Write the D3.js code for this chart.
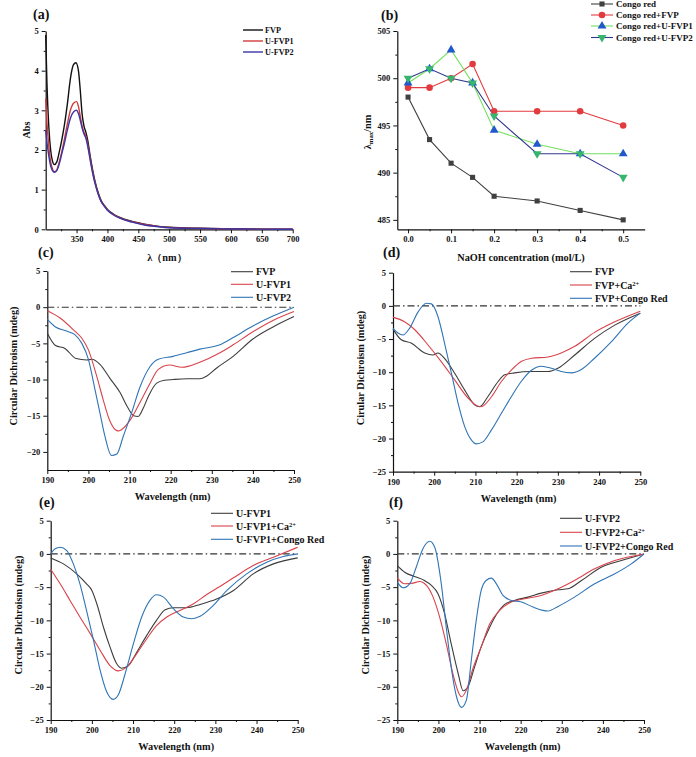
<!DOCTYPE html>
<html><head><meta charset="utf-8">
<script src="https://cdn.jsdelivr.net/npm/d3@7"></script>
<style>
body{margin:0;background:#fff}
text{font-family:"Liberation Serif","Times New Roman",serif;font-weight:bold;fill:#111}
</style>
</head><body>
<svg id="chart" width="696" height="757"></svg>
<script>
// ---------- Panel (a) UV spectra ----------
const uvFVP = [[300,4.9],[302,3.7],[305,2.6],[308,2.0],[311,1.72],[314,1.63],[318,1.7],[322,1.95],[326,2.25],[330,2.6],[335,3.15],[340,3.8],[345,4.15],[349,4.2],[353,4.0],[356,3.5],[359,2.9],[362,2.6],[365,2.45],[368,2.25],[372,1.85],[376,1.5],[380,1.2],[385,0.92],[390,0.72],[395,0.6],[400,0.5],[410,0.38],[420,0.3],[440,0.2],[460,0.13],[480,0.08],[500,0.05],[550,0.025],[600,0.012],[650,0.005],[700,0]];
const uvU1  = [[300,3.3],[302,2.7],[305,2.1],[308,1.7],[311,1.52],[314,1.45],[318,1.5],[322,1.7],[326,1.95],[330,2.25],[335,2.65],[340,3.0],[345,3.18],[350,3.22],[353,3.1],[356,2.85],[359,2.6],[362,2.45],[365,2.35],[368,2.15],[372,1.8],[376,1.45],[380,1.17],[385,0.9],[390,0.7],[395,0.59],[400,0.49],[410,0.37],[420,0.29],[440,0.19],[460,0.12],[480,0.075],[500,0.045],[550,0.022],[600,0.01],[650,0.004],[700,0]];
const uvU2  = [[300,2.5],[302,2.2],[305,1.85],[308,1.6],[311,1.48],[314,1.44],[318,1.48],[322,1.65],[326,1.9],[330,2.15],[335,2.5],[340,2.8],[345,2.96],[350,3.0],[353,2.92],[356,2.75],[359,2.55],[362,2.4],[365,2.3],[368,2.1],[372,1.75],[376,1.42],[380,1.15],[385,0.88],[390,0.69],[395,0.58],[400,0.48],[410,0.36],[420,0.28],[440,0.18],[460,0.11],[480,0.07],[500,0.04],[550,0.02],[600,0.009],[650,0.004],[700,0]];
const uvNames = ["FVP","U-FVP1","U-FVP2"];
const uvXTicks = [350,400,450,500,550,600,650,700];
const uvYTicks = [0,1,2,3,4,5];

// ---------- Panel (b) Congo red λmax ----------
const naoh = [0,0.05,0.1,0.15,0.2,0.3,0.4,0.5];
const lamCR   = [498,493.5,491,489.5,487.5,487,486,485];
const lamFVP  = [499,499,500,501.5,496.5,496.5,496.5,495];
const lamU1   = [499.5,501,503,499.5,494.5,493,492,492];
const lamU2   = [500,501,500,499.5,496,492,492,489.5];
const bNames = ["Congo red","Congo red+FVP","Congo red+U-FVP1","Congo red+U-FVP2"];
const bXTicks = [0,0.1,0.2,0.3,0.4,0.5];
const bYTicks = [485,490,495,500,505];

// ---------- Panel (c) CD ----------
const cFVP = [[190,-3.6],[192,-5.3],[194.3,-5.7],[197,-7.1],[199.6,-7.3],[200.8,-7.2],[202.8,-7.9],[205.2,-9.8],[207.7,-11.8],[209.5,-13.8],[211,-15.0],[212.1,-15.1],[213.3,-14.0],[214.6,-12.3],[216.6,-10.5],[218.5,-10.1],[220.6,-10.0],[224,-9.9],[227.1,-9.9],[228.8,-9.5],[231.2,-8.4],[235.2,-6.8],[240,-4.4],[245,-2.7],[250,-1.3]];
const cU1  = [[190,-0.5],[193.1,-1.5],[196.3,-3.1],[198.4,-4.3],[200,-5.9],[202,-9.5],[203.6,-12.8],[205.2,-15.7],[206.5,-16.9],[207.3,-17.1],[208.1,-16.9],[210.5,-15.3],[212.5,-13.2],[215,-10.5],[217,-8.6],[219.8,-8.0],[222.7,-8.3],[227.1,-7.6],[232,-6.3],[235.2,-5.2],[240,-3.4],[245,-1.8],[250,-0.6]];
const cU2  = [[190,-1.7],[191.9,-2.7],[194.7,-3.3],[196.7,-3.8],[198.4,-5.0],[200,-7.2],[201.6,-11.4],[202.8,-14.6],[204,-17.8],[205.6,-20.5],[206.9,-20.3],[208.5,-17.8],[210.5,-14.6],[212.5,-11.1],[215,-8.2],[217,-7.2],[220.6,-6.8],[223.9,-6.3],[227.1,-5.8],[232,-5.2],[235.2,-4.2],[240,-2.6],[245,-1.2],[250,0]];
const cNames = ["FVP","U-FVP1","U-FVP2"];

// ---------- Panel (d) CD ----------
const dFVP = [[190,-3.5],[192,-5.1],[194.4,-5.6],[197.7,-7.1],[199.7,-7.4],[200.9,-7.1],[202.5,-7.9],[205,-10.2],[207.4,-12.7],[209.8,-14.9],[211,-15.2],[213,-13.7],[215.5,-11.4],[217.1,-10.4],[219.5,-10.1],[223.6,-9.9],[227.6,-9.9],[230,-9.4],[234.1,-7.4],[238.9,-4.9],[243.8,-2.9],[250,-1.1]];
const dCa  = [[190,-1.7],[192.8,-2.4],[195.3,-3.6],[198.5,-5.9],[201.7,-8.4],[205,-11.2],[208.2,-13.9],[210.2,-15.0],[211.4,-15.2],[213.9,-13.7],[216.3,-11.4],[218.7,-9.7],[221.1,-8.4],[223.6,-7.9],[227.6,-7.7],[230.8,-7.1],[234.1,-6.1],[238.9,-4.0],[243.8,-2.4],[250,-0.8]];
const dCR  = [[190,-3.4],[191.2,-4.1],[192.4,-4.4],[194,-3.4],[196.1,-0.9],[198.1,0.4],[199.3,0.3],[200.9,-1.6],[202.5,-5.6],[204.2,-10.2],[205.8,-14.7],[207.4,-18.2],[209,-20.2],[210.2,-20.8],[211.8,-20.5],[213.9,-18.7],[216.3,-16.2],[218.7,-13.7],[221.1,-11.4],[223.6,-9.7],[226,-9.1],[228.4,-9.4],[230.8,-9.9],[233.3,-10.1],[235.7,-9.6],[238.9,-7.9],[243,-5.4],[247,-2.6],[250,-1.1]];
const dNames = ["FVP","FVP+Ca","FVP+Congo Red"];

// ---------- Panel (e) CD ----------
const eU1 = [[190,-0.6],[193.1,-1.5],[196.3,-3],[198.7,-4.5],[200,-5.5],[201.2,-7.5],[202.8,-11],[204.4,-14],[206,-16.5],[207.2,-17.2],[208.9,-16.8],[210.9,-14.8],[213.3,-12.3],[215.7,-10],[217.8,-8.4],[219.8,-8.1],[223,-8.1],[226.3,-7.6],[230.3,-6.8],[234.4,-5.5],[239.2,-3],[244.1,-1.5],[250,-0.6]];
const eCa = [[190,-2.3],[192.3,-4.5],[194.7,-7],[197.1,-9.5],[199.6,-12],[202,-14.5],[204.4,-16.8],[206.4,-17.6],[208.5,-17],[210.9,-15],[213.3,-12.8],[215.7,-10.8],[218.2,-9.5],[221.4,-8.5],[224.7,-7.5],[227.9,-6.1],[231.1,-4.9],[234.4,-3.6],[239.2,-1.75],[244.1,-0.5],[250,1.0]];
const eCR = [[190,0],[191,0.75],[192.3,1.0],[193.9,0.5],[195.5,-1.5],[197.1,-4.5],[198.7,-8.5],[200.4,-13],[202,-17.5],[203.6,-20.75],[205.2,-21.9],[206.4,-21.25],[208.1,-18],[210.1,-13.5],[212.1,-9.5],[214.1,-7],[215.7,-6.15],[217.4,-6.5],[219.8,-8.25],[222.2,-9.5],[224.3,-9.75],[226.3,-9.4],[229.5,-7.75],[232.8,-5.5],[237.6,-3],[242.5,-1.25],[246.5,-0.4],[250,0]];
const eNames = ["U-FVP1","U-FVP1+Ca","U-FVP1+Congo Red"];

// ---------- Panel (f) CD ----------
const fU2 = [[190,-1.75],[191.8,-2.75],[194.2,-3.4],[196.6,-4],[198.3,-4.75],[199.9,-6],[201.5,-9],[203.1,-13.5],[204.8,-18],[206,-20.6],[207.2,-20],[208.8,-17],[210.4,-14],[212.5,-11],[214.5,-8.75],[216.1,-7.6],[218.5,-7],[221.8,-6.5],[225,-5.9],[229.1,-5.4],[231.5,-5.25],[234.8,-4],[239.6,-2],[244.5,-1],[250,0]];
const fCa = [[190,-3.6],[191.8,-4.5],[193.8,-4.4],[195.4,-4.15],[197.1,-4.75],[198.7,-6.5],[200.3,-9.5],[201.9,-13.5],[203.5,-18],[204.8,-20.75],[205.6,-21.5],[206.8,-20.5],[208.4,-17.25],[210.4,-14],[212.5,-10.5],[214.9,-8.5],[217.7,-7.25],[221,-6.75],[225,-6.25],[229.1,-5.25],[233.1,-4],[238,-2.25],[242.9,-1],[250,0]];
const fCR = [[190,-4.25],[191.4,-5.1],[193,-4.5],[194.6,-2],[196.2,0.75],[197.9,1.9],[199.1,1.0],[200.7,-4.5],[201.9,-11],[203.1,-17],[204.4,-21.5],[205.6,-23.1],[206.8,-22],[208,-16],[209.2,-10],[210.4,-5.5],[211.6,-4],[212.9,-3.65],[214.1,-4.5],[215.7,-6.25],[217.7,-7],[220.2,-7.25],[223,-8],[225.4,-8.5],[226.6,-8.6],[229.1,-7.9],[233.1,-6.5],[238,-4.5],[242.9,-3],[246.9,-1.5],[250,0]];
const fNames = ["U-FVP2","U-FVP2+Ca","U-FVP2+Congo Red"];

const cdXTicks = [190,200,210,220,230,240,250];
const cdYTicksC = [-20,-15,-10,-5,0,5];
const cdYTicks = [-25,-20,-15,-10,-5,0,5];

const svg = d3.select("#chart");
const CD_COLORS = ["#3d3d3d","#d8434b","#2f74b5"];

function axes(g, x, y, xt, yt, xminor, yminor, xfmt, yfmt, fs) {
  const b = y.range()[0], l = x.range()[0];
  const ax = d3.axisBottom(x).tickValues(xt).tickSize(4).tickSizeOuter(0).tickPadding(3).tickFormat(xfmt);
  const gx = g.append("g").attr("transform",`translate(0,${b})`).call(ax);
  g.append("g").attr("transform",`translate(0,${b})`).call(d3.axisBottom(x).tickValues(xminor).tickSize(2).tickFormat("")).select(".domain").remove();
  const ay = d3.axisLeft(y).tickValues(yt).tickSize(4).tickSizeOuter(0).tickPadding(3).tickFormat(yfmt);
  const gy = g.append("g").attr("transform",`translate(${l},0)`).call(ay);
  g.append("g").attr("transform",`translate(${l},0)`).call(d3.axisLeft(y).tickValues(yminor).tickSize(2).tickFormat("")).select(".domain").remove();
  g.selectAll(".domain").attr("stroke","#111").attr("stroke-width",1.2);
  g.selectAll(".tick line").attr("stroke","#111").attr("stroke-width",1);
  g.selectAll(".tick text").attr("font-size",fs||8.5).attr("font-family","Liberation Serif").attr("font-weight","bold").attr("fill","#111");
}

function label(txt, x, y) {
  svg.append("text").attr("x",x).attr("y",y).attr("font-size",14).text(txt);
}
function ytitle(txt, x, y, fs) {
  return svg.append("text").attr("transform",`translate(${x},${y}) rotate(-90)`).attr("text-anchor","middle").attr("font-size",fs||10.3).text(txt);
}
function xtitle(txt, x, y, fs) {
  return svg.append("text").attr("x",x).attr("y",y).attr("text-anchor","middle").attr("font-size",fs||10.3).text(txt);
}

function legendText(t, name, superIdx) {
  if (name.indexOf("+Ca") >= 0) {
    const parts = name.split("+Ca");
    t.text(parts[0] + "+Ca");
    t.append("tspan").attr("font-size","0.65em").attr("dy","-0.45em").text("2+");
  } else t.text(name);
}

// ---------- Panel (a) ----------
(function(){
  const g = svg.append("g");
  const x = d3.scaleLinear().domain([300,700]).range([45.7,292.7]);
  const y = d3.scaleLinear().domain([0,5]).range([229.3,31]);
  const minorX = d3.range(325,700,50);
  const minorY = [0.5,1.5,2.5,3.5,4.5];
  axes(g,x,y,uvXTicks,uvYTicks,minorX,minorY,d3.format("d"),d3.format("d"),8.5);
  const cols = ["#111111","#d23a3a","#3a36a8"];
  const line = d3.line().x(d=>x(d[0])).y(d=>y(d[1])).curve(d3.curveMonotoneX);
  [uvFVP,uvU1,uvU2].forEach((s,i)=>{
    g.append("path").datum(s).attr("d",line).attr("fill","none").attr("stroke",cols[i]).attr("stroke-width",1.4);
  });
  const ly=[30,41,52];
  uvNames.forEach((n,i)=>{
    g.append("line").attr("x1",243).attr("x2",263).attr("y1",ly[i]).attr("y2",ly[i]).attr("stroke",cols[i]).attr("stroke-width",1.4);
    g.append("text").attr("x",265).attr("y",ly[i]+3).attr("font-size",8.2).text(n);
  });
  label("(a)",33,19);
  ytitle("Abs",30,130,10.3);
  xtitle("λ（nm）",167,261,10.3);
})();

// ---------- Panel (b) ----------
(function(){
  const g = svg.append("g");
  const x = d3.scaleLinear().domain([-0.025,0.55]).range([397.3,644.7]);
  const y = d3.scaleLinear().domain([484,505]).range([229.3,31]);
  axes(g,x,y,bXTicks,bYTicks,[0.05,0.15,0.25,0.35,0.45],[487.5,492.5,497.5,502.5],d3.format(".1f"),d3.format("d"),8.5);
  const lineCols = ["#404040","#e23b3f","#72e05c","#30388e"];
  const mkCols = ["#404040","#e23b3f","#2158cc","#36b56c"];
  const syms = [d3.symbolSquare,d3.symbolCircle,d3.symbolTriangle,d3.symbolTriangle];
  const sizes = [26,34,34,34];
  const rots = [0,0,0,180];
  const series = [lamCR,lamFVP,lamU1,lamU2];
  const line = d3.line().x((d,i)=>x(naoh[i])).y(d=>y(d));
  series.forEach((s,i)=>{
    g.append("path").datum(s).attr("d",line).attr("fill","none").attr("stroke",lineCols[i]).attr("stroke-width",1.1);
  });
  series.forEach((s,i)=>{
    g.selectAll(null).data(s).enter().append("path")
      .attr("d",d3.symbol().type(syms[i]).size(sizes[i]))
      .attr("transform",(d,j)=>`translate(${x(naoh[j])},${y(d)}) rotate(${rots[i]})`)
      .attr("fill",mkCols[i]);
  });
  const ly=[4,15,26,37.5];
  bNames.forEach((n,i)=>{
    g.append("line").attr("x1",591).attr("x2",613).attr("y1",ly[i]).attr("y2",ly[i]).attr("stroke",lineCols[i]).attr("stroke-width",1.1);
    g.append("path").attr("d",d3.symbol().type(syms[i]).size(sizes[i])).attr("transform",`translate(602,${ly[i]}) rotate(${rots[i]})`).attr("fill",mkCols[i]);
    g.append("text").attr("x",616).attr("y",ly[i]+3).attr("font-size",9).text(n);
  });
  label("(b)",381,20);
  const t = ytitle("",371,132,10.3);
  t.append("tspan").text("λ");
  t.append("tspan").attr("font-size","0.65em").attr("dy","0.35em").text("max");
  t.append("tspan").attr("dy","-0.23em").text("/nm");
  xtitle("NaOH concentration (mol/L)",521,261,10.3);
})();

// ---------- CD panels ----------
function cdPanel(o) {
  const g = svg.append("g");
  const x = d3.scaleLinear().domain([190,250]).range([o.l,o.r]);
  const y = d3.scaleLinear().domain(o.yd).range([o.b,o.t]);
  const minorY = d3.range(o.yd[0]<-22.6?-22.5:-17.5, 5, 5).filter(v=>v>o.yd[0]);
  axes(g,x,y,cdXTicks,o.yt,[195,205,215,225,235,245],minorY,d3.format("d"),d3.format("d"),8.5);
  g.append("line").attr("x1",o.l).attr("x2",o.r).attr("y1",y(0)).attr("y2",y(0))
    .attr("stroke","#333").attr("stroke-width",1.1).attr("stroke-dasharray","7,3,1.5,3");
  const line = d3.line().x(d=>x(d[0])).y(d=>y(d[1])).curve(d3.curveMonotoneX);
  o.series.forEach((s,i)=>{
    g.append("path").datum(s).attr("d",line).attr("fill","none").attr("stroke",CD_COLORS[i]).attr("stroke-width",1.1);
  });
  o.names.forEach((n,i)=>{
    const yy = o.ly[i];
    g.append("line").attr("x1",o.lx).attr("x2",o.lx+22).attr("y1",yy).attr("y2",yy).attr("stroke",CD_COLORS[i]).attr("stroke-width",1.1);
    const t = g.append("text").attr("x",o.lx+25).attr("y",yy+3.5).attr("font-size",10);
    legendText(t,n);
  });
  label(o.lab, o.labx, o.laby);
  ytitle(o.ytitle, o.ytx, o.yty, 10.3);
  xtitle("Wavelength (nm)", (o.l+o.r)/2+2, o.b+30, 10.3);
}

cdPanel({l:47.3,r:294,t:271,b:470,yd:[-22.5,5],yt:cdYTicksC,series:[cFVP,cU1,cU2],names:cNames,
  lx:231,ly:[271.7,284.3,297.3],lab:"(c)",labx:38,laby:257,ytitle:"Circular Dichroism (mdeg)",ytx:17,yty:366});
cdPanel({l:393,r:640.3,t:272.7,b:471.7,yd:[-25,5],yt:cdYTicks,series:[dFVP,dCa,dCR],names:dNames,
  lx:570,ly:[271.7,285,298.3],lab:"(d)",labx:383,laby:257,ytitle:"Cirular Dichroism (mdeg)",ytx:364,yty:368});
cdPanel({l:50.7,r:297.7,t:520.7,b:720,yd:[-25,5],yt:cdYTicks,series:[eU1,eCa,eCR],names:eNames,
  lx:211,ly:[513.3,526,539.3],lab:"(e)",labx:39,laby:507,ytitle:"Circular Dichroism (mdeg)",ytx:22,yty:615});
cdPanel({l:397.3,r:644,t:520.7,b:720,yd:[-25,5],yt:cdYTicks,series:[fU2,fCa,fCR],names:fNames,
  lx:560,ly:[518.3,532.3,546],lab:"(f)",labx:389,laby:507,ytitle:"Circular Dichroism (mdeg)",ytx:369,yty:615});
</script>
</body></html>
